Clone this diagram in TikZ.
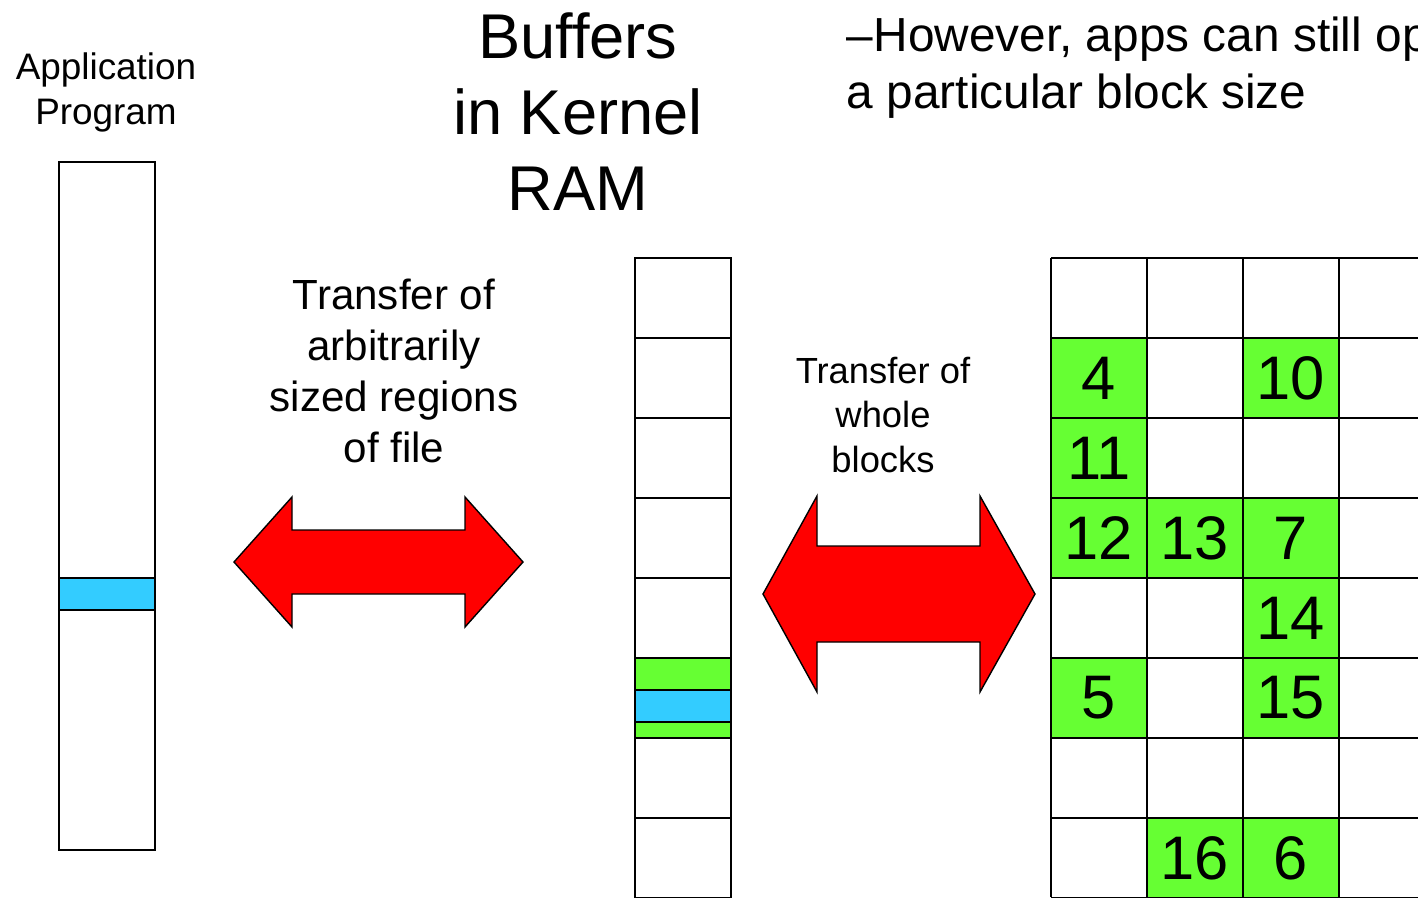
\documentclass[tikz,border=0pt]{standalone}
\usepackage{fontspec}
\setmainfont{Liberation Sans}
\definecolor{lohkovihrea}{HTML}{66FF33}
\definecolor{puskurisininen}{HTML}{33CCFF}

\begin{document}
\begin{tikzpicture}[x=0.02cm,y=-0.02cm,line width=1.1pt,
  teksti/.style={align=center,inner sep=0pt},
  luku/.style={inner sep=0pt,font=\fontsize{35}{40}\selectfont},
  nuolityyli/.style={fill=red,draw=black,line width=0.8pt,line join=miter}]
\newcommand\nuoli[7]{
\filldraw[nuolityyli] (#1,#5) -- (#3,#5-#6) -- (#3,#5-#7) -- (#4,#5-#7) -- (#4,#5-#6)
  -- (#2,#5) -- (#4,#5+#6) -- (#4,#5+#7) -- (#3,#5+#7) -- (#3,#5+#6) -- cycle;
}
\useasboundingbox (0,0) rectangle (1418,897);
\clip (0,0) rectangle (1418,897);

% otsikot
\node[teksti,font=\fontsize{21}{25.6}\selectfont] (sovellus) at (106,92) {Application\\Program};
\node[teksti,font=\fontsize{36}{43.2}\selectfont] (puskurit) at (578,112) {Buffers\\in Kernel\\RAM};
\node[teksti,font=\fontsize{24}{29}\selectfont] (siirto1) at (394,371) {Transfer of\\arbitrarily\\sized regions\\of file};
\node[teksti,font=\fontsize{20.7}{25.6}\selectfont] (siirto2) at (883,415) {Transfer of\\whole\\blocks};
\node[teksti,align=left,anchor=west,font=\fontsize{27.2}{32.4}\selectfont] (huomio) at (846,68)
  {--However, apps can still op\\a particular block size};

% sovelluksen puskuri
\filldraw[fill=puskurisininen] (59,578) rectangle (155,610);
\draw (59,162) rectangle (155,850);

% ytimen puskurit
\fill[lohkovihrea] (635,658) rectangle (731,738);
\filldraw[fill=puskurisininen] (635,690) rectangle (731,722);
\foreach \y in {258,338,...,818}
  \draw (635,\y) rectangle (731,\y+80);

% levyn lohkot
\foreach \c/\r/\n in {1/1/4,3/1/10,1/2/11,1/3/12,2/3/13,3/3/7,3/4/14,1/5/5,3/5/15,2/7/16,3/7/6} {
  \fill[lohkovihrea] ({1051+96*(\c-1)},{258+80*\r}) rectangle ++(96,80);
  \node[luku] (lohko\n) at ({1003+96*\c},{298+80*\r}) {\n};
}
\foreach \i in {0,...,4}
  \draw ({1051+96*\i},258) -- ({1051+96*\i},897);
\foreach \j in {0,...,8}
  \draw (1051,{258+80*\j}) -- (1418,{258+80*\j});

% nuolet
\nuoli{234}{523}{292}{465}{562}{65}{32}
\nuoli{763}{1035}{817}{980}{594}{98}{48}
\end{tikzpicture}
\end{document}
